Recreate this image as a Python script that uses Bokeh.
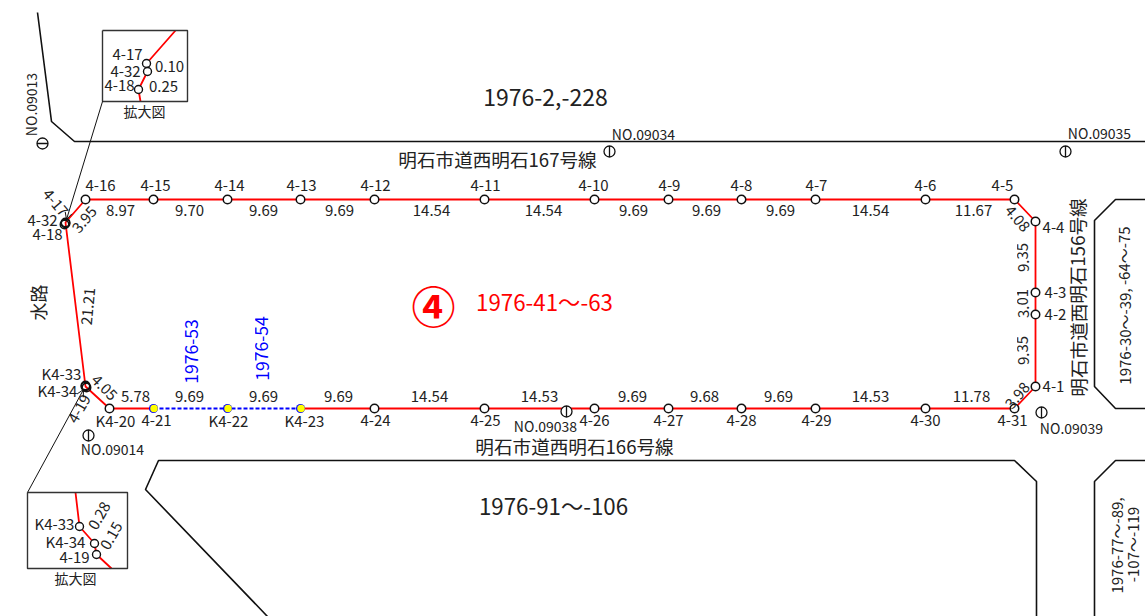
from math import radians, sin, cos
from bokeh.plotting import figure
from bokeh.models import Range1d, Arrow, OpenHead
from bokeh.core.properties import value
from bokeh.embed import file_html
from bokeh.resources import INLINE

FONT = "Noto Sans CJK JP"

# survey points (drawing coordinates)
boundary_red_a_x = [153, 85, 65, 85, 109, 153]
boundary_red_a_y = [199, 199, 222, 386, 408, 408]
boundary_red_b_x = [300, 374, 484, 594, 668, 741, 815, 925, 1014, 1035, 1035, 1035, 1014, 925, 815, 741, 668, 594, 484, 374, 300]
boundary_red_b_y = [408, 408, 408, 408, 408, 408, 408, 408, 408, 386, 221, 221, 199, 199, 199, 199, 199, 199, 199, 199, 199]
boundary_top_x = [153, 227, 300]
boundary_top_y = [199, 199, 199]
boundary_blue_x = [153, 227, 300]
boundary_blue_y = [408, 408, 408]

point_x = [85, 153, 227, 300, 374, 484, 594, 668, 741, 815, 925, 1014, 1035, 1035, 1035, 1035, 1014, 925, 815, 741, 668, 594, 484, 374, 109]
point_y = [199, 199, 199, 199, 199, 199, 199, 199, 199, 199, 199, 199, 221, 292, 314, 386, 408, 408, 408, 408, 408, 408, 408, 408, 408]
yellow_x = [153.5, 227.5, 300.5]
yellow_y = [408, 408, 408]
cluster_x = [65, 65, 64, 85, 85, 86]
cluster_y = [222, 223, 224, 385, 386, 387]

roads = [
    ([37, 51, 74, 1145], [12, 121, 141, 141]),
    ([1036, 1036, 1014, 158, 145, 267], [616, 481, 460, 460, 489, 616]),
    ([1145, 1115, 1094, 1094, 1115, 1145], [199, 199, 220, 386, 408, 408]),
    ([1145, 1115, 1094, 1094], [460, 460, 481, 616]),
]

bench_x = [42, 609, 1065, 88, 1041, 566]
bench_y = [143, 151, 151, 435, 412, 411]
bench_horizontal = [True, False, False, False, False, False]

# inset 1
inset1_box_x = [102, 187, 187, 102, 102]
inset1_box_y = [30, 30, 101, 101, 30]
inset1_line_x = [175, 146, 147, 138, 140]
inset1_line_y = [30, 63, 71, 89, 101]
inset1_pt_x = [146, 147, 138]
inset1_pt_y = [63, 71, 89]
# inset 2
inset2_box_x = [27, 127, 127, 27, 27]
inset2_box_y = [492, 492, 568, 568, 492]
inset2_line_x = [75, 79, 94, 96, 111]
inset2_line_y = [492, 526, 543, 554, 568]
inset2_pt_x = [79, 94, 96]
inset2_pt_y = [526, 543, 554]

names_top = ["4-16", "4-15", "4-14", "4-13", "4-12", "4-11", "4-10", "4-9", "4-8", "4-7", "4-6", "4-5"]
names_top_x = [100, 155, 229, 301, 375, 485, 593, 669, 741, 816, 925, 1002]
names_bot = ["K4-20", "4-21", "K4-22", "K4-23", "4-24", "4-25", "4-26", "4-27", "4-28", "4-29", "4-30", "4-31"]
names_bot_x = [115, 156, 228, 304, 375, 485, 594, 668, 741, 816, 925, 1012]
dist_top = ["8.97", "9.70", "9.69", "9.69", "14.54", "14.54", "9.69", "9.69", "9.69", "14.54", "11.67"]
dist_top_x = [120, 189, 263, 339, 431, 543, 633, 706, 780, 870, 973]
dist_bot = ["5.78", "9.69", "9.69", "9.69", "14.54", "14.53", "9.69", "9.68", "9.69", "14.53", "11.78"]
dist_bot_x = [135, 189, 263, 338, 429, 539, 632, 704, 778, 870, 971]

# (text, x, y, size, angle degrees, colour)
other_labels = [
    ("4-4", 1053, 228, 15, 0, "#222222"), ("4-3", 1055, 293, 15, 0, "#222222"),
    ("4-2", 1055, 315, 15, 0, "#222222"), ("4-1", 1053, 387, 15, 0, "#222222"),
    ("9.35", 1024, 257, 15, 90, "#222222"), ("3.01", 1024, 303, 15, 90, "#222222"),
    ("9.35", 1024, 350, 15, 90, "#222222"), ("3.98", 1018, 396, 15, 50, "#222222"),
    ("4.08", 1016, 219, 15, -50, "#222222"), ("3.95", 85, 220, 15, 50, "#222222"),
    ("21.21", 89, 306, 15, 85, "#222222"), ("4.05", 103, 388, 15, -45, "#222222"),
    ("4-19", 80, 409, 15, 60, "#222222"), ("4-17", 54, 203, 15, -50, "#222222"),
    ("4-32", 42, 221, 15, 0, "#222222"), ("4-18", 47, 235, 15, 0, "#222222"),
    ("K4-33", 61, 374, 15, 0, "#222222"), ("K4-34", 57, 391, 15, 0, "#222222"),
    ("NO.09013", 32, 104, 14, 90, "#222222"), ("NO.09034", 643, 135, 14, 0, "#222222"),
    ("NO.09035", 1099, 134, 14, 0, "#222222"), ("NO.09014", 112, 450, 14, 0, "#222222"),
    ("NO.09039", 1071, 429, 14, 0, "#222222"), ("NO.09038", 545, 427, 14, 0, "#222222"),
    ("1976-2,-228", 545, 98, 23, 0, "#222222"),
    ("明石市道西明石167号線", 497, 159, 18.6, 0, "#222222"),
    ("明石市道西明石166号線", 574, 446, 18.6, 0, "#222222"),
    ("明石市道西明石156号線", 1078, 297, 18.6, 90, "#222222"),
    ("水路", 39, 302, 18, 90, "#222222"),
    ("1976-41～-63", 544, 302, 22.3, 0, "#ff0000"),
    ("④", 433, 306, 44, 0, "#ff0000"),
    ("1976-91～-106", 553, 506, 22.3, 0, "#222222"),
    ("1976-53", 192, 351, 17.5, 90, "#0000ff"),
    ("1976-54", 263, 348, 17.5, 90, "#0000ff"),
    ("1976-30～-39, -64～-75", 1125, 305, 15, 90, "#222222"),
    ("1976-77～-89,", 1117, 545, 15, 90, "#222222"),
    ("-107～-119", 1133, 544, 15, 90, "#222222"),
    ("4-17", 127, 55, 15, 0, "#222222"), ("4-32", 125, 72, 15, 0, "#222222"),
    ("4-18", 119, 86, 15, 0, "#222222"), ("0.10", 169, 67, 15, 0, "#222222"),
    ("0.25", 163, 87, 15, 0, "#222222"), ("拡大図", 144, 112, 14, 0, "#222222"),
    ("K4-33", 54, 524, 15, 0, "#222222"), ("K4-34", 65, 542, 15, 0, "#222222"),
    ("4-19", 74, 558, 15, 0, "#222222"), ("0.28", 100, 516, 15, 60, "#222222"),
    ("0.15", 112, 536, 15, 60, "#222222"), ("拡大図", 75, 579, 14, 0, "#222222"),
]

p = figure(width=1145, height=616, output_backend="svg", toolbar_location=None,
           x_range=Range1d(0, 1145), y_range=Range1d(616, 0),
           background_fill_color="white", border_fill_color="white", min_border=0)
p.axis.visible = False
p.grid.visible = False
p.outline_line_color = None

for rx, ry in roads:
    p.line(rx, ry, line_color="#111111", line_width=1.6)

p.line(boundary_red_a_x, boundary_red_a_y, line_color="#ff0000", line_width=1.8)
p.line(boundary_red_b_x, boundary_red_b_y, line_color="#ff0000", line_width=1.8)
p.line(boundary_top_x, boundary_top_y, line_color="#ff0000", line_width=1.8)

p.scatter([x - 0.5 for x in yellow_x], yellow_y, size=9, fill_color="#0000ff", line_color=None)
p.line(boundary_blue_x, boundary_blue_y, line_color="#0000ff", line_width=1.8, line_dash="4 2")
p.scatter(yellow_x, yellow_y, size=7.5, fill_color="#ffff00", line_color=None)
p.scatter(point_x, point_y, size=8.5, fill_color="white", line_color="#111111", line_width=1.5)
p.scatter(cluster_x, cluster_y, size=8.5, fill_color=None, line_color="#111111", line_width=1.5)

for bx, by, bh in zip(bench_x, bench_y, bench_horizontal):
    p.scatter([bx], [by], size=11, fill_color="white", line_color="#111111", line_width=1.3)
    if bh:
        p.line([bx - 5.5, bx + 5.5], [by, by], line_color="#111111", line_width=1.3)
    else:
        p.line([bx, bx], [by - 5.5, by + 5.5], line_color="#111111", line_width=1.3)

p.line(inset1_line_x, inset1_line_y, line_color="#ff0000", line_width=1.8)
p.line(inset1_box_x, inset1_box_y, line_color="#333333", line_width=1.4)
p.scatter(inset1_pt_x, inset1_pt_y, size=8, fill_color="white", line_color="#111111", line_width=1.4)
p.line(inset2_line_x, inset2_line_y, line_color="#ff0000", line_width=1.8)
p.line(inset2_box_x, inset2_box_y, line_color="#333333", line_width=1.4)
p.scatter(inset2_pt_x, inset2_pt_y, size=8, fill_color="white", line_color="#111111", line_width=1.4)

for (x0, y0, x1, y1) in [(102, 101, 66, 219), (27, 492, 83, 389)]:
    p.add_layout(Arrow(end=OpenHead(size=7, line_color="#111111", line_width=1),
                       x_start=x0, y_start=y0, x_end=x1, y_end=y1,
                       line_color="#111111", line_width=1))


def put(txt, xs, ys, size, angle, color, style="normal"):
    a = radians(angle)
    lift = 1.5
    p.text([x - sin(a) * lift for x in xs], [y - cos(a) * lift for y in ys], text=txt,
           text_font=value(FONT), text_font_size=f"{size}px", text_font_style=style,
           text_color=color, text_align="center", text_baseline="middle",
           angle=[a] * len(txt))


put(names_top, names_top_x, [186] * len(names_top), 15, 0, "#222222")
put(names_bot, names_bot_x, [421] * len(names_bot), 15, 0, "#222222")
put(dist_top, dist_top_x, [211] * len(dist_top), 15, 0, "#222222")
put(dist_bot, dist_bot_x, [397] * len(dist_bot), 15, 0, "#222222")
for t, x, y, s, a, c in other_labels:
    put([t], [x], [y], s, a, c, "bold" if t == "④" else "normal")

open("out.html", "w").write(file_html(p, INLINE))
